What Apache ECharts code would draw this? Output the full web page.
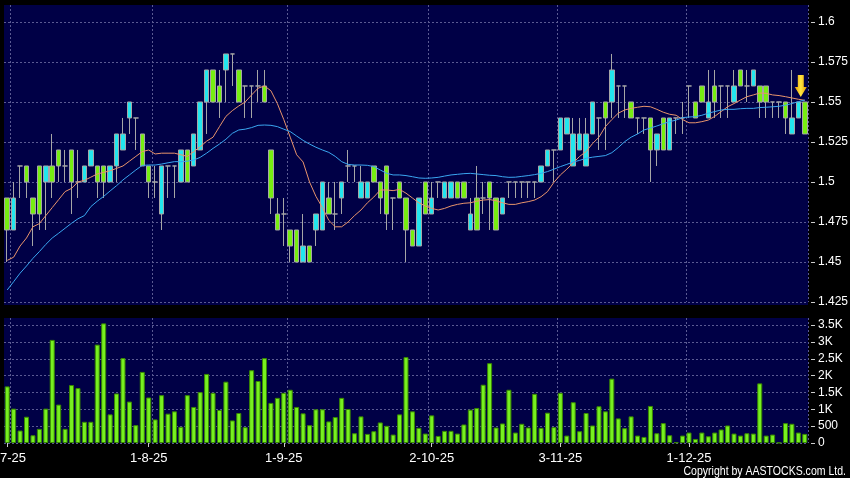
<!DOCTYPE html>
<html><head><meta charset="utf-8">
<script src="https://cdn.jsdelivr.net/npm/echarts@6/dist/echarts.min.js"></script>
<style>html,body{margin:0;padding:0;background:#000;}#c{width:850px;height:478px;}</style>
</head><body><div id="c"></div>
<script>
// ---- data ----
const openP  = [1.49,1.47,1.51,1.51,1.49,1.51,1.50,1.51,1.52,1.51,1.52,1.50,1.50,1.51,1.51,1.51,1.50,1.51,1.52,1.54,1.54,1.53,1.51,1.50,1.48,1.51,1.51,1.50,1.52,1.51,1.52,1.55,1.57,1.56,1.57,1.58,1.57,1.56,1.56,1.56,1.56,1.52,1.48,1.48,1.47,1.47,1.45,1.46,1.47,1.47,1.49,1.48,1.49,1.51,1.51,1.49,1.49,1.51,1.50,1.51,1.49,1.50,1.49,1.47,1.46,1.50,1.48,1.50,1.49,1.49,1.50,1.50,1.47,1.49,1.49,1.50,1.49,1.48,1.50,1.50,1.50,1.50,1.50,1.50,1.51,1.52,1.52,1.53,1.51,1.52,1.51,1.53,1.54,1.55,1.55,1.56,1.56,1.55,1.54,1.54,1.54,1.52,1.54,1.52,1.54,1.54,1.56,1.55,1.56,1.54,1.56,1.56,1.56,1.55,1.57,1.56,1.56,1.56,1.56,1.55,1.55,1.55,1.53,1.54,1.55];
const closeP = [1.47,1.49,1.51,1.50,1.48,1.48,1.51,1.50,1.51,1.51,1.50,1.50,1.51,1.52,1.50,1.50,1.51,1.53,1.53,1.55,1.54,1.51,1.50,1.50,1.51,1.51,1.51,1.52,1.50,1.53,1.55,1.57,1.55,1.55,1.58,1.58,1.55,1.56,1.56,1.56,1.55,1.49,1.47,1.48,1.46,1.45,1.46,1.45,1.48,1.50,1.48,1.48,1.50,1.51,1.51,1.50,1.50,1.50,1.49,1.48,1.49,1.49,1.47,1.46,1.49,1.48,1.49,1.50,1.50,1.50,1.49,1.49,1.48,1.47,1.49,1.49,1.47,1.49,1.50,1.50,1.50,1.50,1.50,1.51,1.52,1.52,1.54,1.54,1.53,1.53,1.53,1.55,1.54,1.54,1.57,1.56,1.56,1.54,1.54,1.54,1.52,1.53,1.52,1.54,1.54,1.54,1.56,1.54,1.55,1.55,1.55,1.56,1.56,1.56,1.56,1.56,1.57,1.55,1.55,1.55,1.55,1.54,1.54,1.55,1.53];
const lowP   = [1.45,1.47,1.49,1.49,1.46,1.47,1.47,1.49,1.50,1.50,1.48,1.49,1.50,1.51,1.49,1.49,1.50,1.50,1.52,1.53,1.52,1.51,1.49,1.49,1.47,1.49,1.49,1.50,1.50,1.51,1.52,1.53,1.55,1.54,1.55,1.56,1.55,1.54,1.54,1.55,1.55,1.48,1.47,1.46,1.45,1.45,1.45,1.45,1.46,1.47,1.48,1.47,1.48,1.50,1.50,1.49,1.49,1.50,1.48,1.47,1.47,1.49,1.45,1.46,1.46,1.48,1.48,1.49,1.49,1.49,1.49,1.49,1.47,1.47,1.48,1.47,1.47,1.48,1.49,1.49,1.49,1.49,1.49,1.50,1.51,1.50,1.52,1.53,1.51,1.52,1.51,1.53,1.52,1.52,1.54,1.54,1.54,1.54,1.53,1.53,1.50,1.51,1.52,1.52,1.53,1.53,1.54,1.54,1.55,1.54,1.54,1.54,1.54,1.55,1.56,1.55,1.56,1.54,1.54,1.54,1.54,1.53,1.53,1.54,1.53];
const highP  = [1.49,1.50,1.51,1.51,1.49,1.51,1.51,1.53,1.52,1.52,1.52,1.52,1.51,1.52,1.51,1.51,1.51,1.53,1.54,1.55,1.54,1.53,1.51,1.51,1.51,1.51,1.51,1.52,1.52,1.53,1.55,1.57,1.57,1.57,1.58,1.58,1.57,1.56,1.56,1.57,1.57,1.52,1.49,1.49,1.47,1.47,1.48,1.46,1.48,1.50,1.50,1.50,1.50,1.52,1.51,1.51,1.50,1.51,1.50,1.51,1.49,1.50,1.49,1.47,1.49,1.50,1.50,1.50,1.50,1.50,1.50,1.50,1.49,1.51,1.50,1.50,1.49,1.49,1.50,1.50,1.50,1.50,1.50,1.51,1.52,1.52,1.54,1.54,1.54,1.54,1.54,1.55,1.54,1.55,1.58,1.56,1.56,1.55,1.54,1.54,1.54,1.53,1.54,1.54,1.54,1.55,1.56,1.55,1.56,1.57,1.57,1.56,1.56,1.57,1.57,1.57,1.57,1.56,1.56,1.55,1.55,1.55,1.57,1.55,1.55];
const volume = [1680,1020,370,780,230,420,1020,3060,1140,420,1720,1630,630,630,2920,3550,850,1470,2520,1230,530,2110,1350,700,1420,870,940,480,1420,1070,1510,2050,1490,980,1820,670,890,470,2160,1840,2520,1190,1340,1490,1580,
  1070,880,530,1000,1000,640,770,1340,1010,290,790,270,350,610,510,250,850,2550,940,450,280,820,210,360,360,280,550,990,1040,1730,2370,460,580,1580,310,570,460,1460,450,900,470,1490,220,
  1210,350,890,520,1090,940,1910,730,440,790,220,180,1100,290,590,230,20,220,310,120,310,200,310,400,520,280,220,290,280,1770,220,250,10,590,570,310,270];
const maShort = [1.451,1.453,1.460,1.465,1.472,1.474,1.479,1.484,1.489,1.494,1.496,1.500,1.501,1.503,1.505,1.506,1.507,1.5085,1.510,1.513,1.516,1.519,1.520,1.5175,1.518,1.518,1.518,1.517,1.516,1.519,1.522,1.5255,1.528,1.5346,1.541,1.5446,1.5475,1.550,1.5544,1.5586,1.560,1.557,1.549,1.539,1.528,1.517,1.5125,1.500,1.491,1.484,1.476,1.472,1.472,1.475,1.479,1.4825,1.487,1.4906,1.495,1.495,1.4946,1.4954,1.493,1.490,1.487,1.485,1.4835,1.4825,1.4835,1.485,1.486,1.4867,1.487,1.488,1.4887,1.489,1.4883,1.487,1.486,1.486,1.487,1.4877,1.4887,1.4908,1.494,1.4998,1.5044,1.508,1.512,1.516,1.519,1.524,1.528,1.5346,1.539,1.543,1.545,1.546,1.5467,1.5473,1.547,1.5454,1.5436,1.5423,1.5417,1.539,1.537,1.537,1.5377,1.5387,1.541,1.544,1.547,1.549,1.5512,1.5533,1.5544,1.5556,1.5554,1.5544,1.554,1.5533,1.5525,1.5517,1.551];
const maLong  = [1.4325,1.4377,1.443,1.4475,1.4523,1.4565,1.461,1.465,1.468,1.4711,1.4742,1.477,1.479,1.4846,1.488,1.491,1.4944,1.4977,1.5013,1.5044,1.5075,1.5104,1.5106,1.5106,1.5112,1.512,1.5127,1.5127,1.513,1.5137,1.5154,1.518,1.521,1.5237,1.5267,1.5304,1.5325,1.533,1.534,1.5354,1.5356,1.5354,1.5346,1.533,1.5315,1.5287,1.526,1.5237,1.5217,1.520,1.5185,1.516,1.5127,1.511,1.5106,1.5106,1.5104,1.5096,1.5075,1.5054,1.5044,1.5044,1.504,1.5033,1.5025,1.5023,1.5025,1.5029,1.5037,1.5044,1.5048,1.5052,1.5054,1.505,1.5046,1.5042,1.504,1.5033,1.5029,1.503,1.5035,1.504,1.5046,1.5054,1.5065,1.508,1.5096,1.511,1.5125,1.5135,1.5148,1.5155,1.516,1.5165,1.5183,1.5215,1.5252,1.528,1.530,1.5325,1.5337,1.535,1.5364,1.5377,1.5387,1.5402,1.5406,1.5408,1.5417,1.543,1.544,1.545,1.5454,1.5454,1.5458,1.546,1.546,1.5465,1.5467,1.547,1.5473,1.548,1.549,1.5502,1.5512];
const dateTickIndex = [0,22,43,66,86,106];
const dateTickText  = ['2-7-25','1-8-25','1-9-25','2-10-25','3-11-25','1-12-25'];
const dateGridIndex = [1,23,44,66,86,106];
const priceTicks = [1.425,1.45,1.475,1.5,1.525,1.55,1.575,1.6];
const volumeTickText = ['0','500','1K','1.5K','2K','2.5K','3K','3.5K'];

// ---- chart ----
const cats = openP.map((_, i) => String(i));
const kData = openP.map((o, i) => [o, closeP[i], lowP[i], highP[i]]);
const NAVY = '#000046';
const GRIDC = '#5a5a92';
const FONT = "'Liberation Sans', Arial, sans-serif";
const last = openP.length - 1;

const chart = echarts.init(document.getElementById('c'), null, {renderer: 'canvas'});
chart.setOption({
  animation: false,
  backgroundColor: '#000',
  textStyle: {fontFamily: FONT},
  grid: [
    {left: 4, right: 42, top: 5, bottom: 176, show: true, backgroundColor: NAVY, borderWidth: 0, outerBoundsMode: 'none', containLabel: false},
    {left: 4, right: 42, top: 318, bottom: 35, show: true, backgroundColor: NAVY, borderWidth: 0, outerBoundsMode: 'none', containLabel: false}
  ],
  graphic: [
    {type: 'rect', left: 4, top: 302, shape: {width: 804, height: 3}, style: {fill: NAVY}, silent: true, z: -1},
    {type: 'text', x: 846, y: 471, scaleX: 0.81, style: {text: 'Copyright by AASTOCKS.com Ltd.', fill: '#fff', align: 'right', verticalAlign: 'middle', font: "13px 'Liberation Sans', Arial, sans-serif"}}
  ],
  xAxis: [
    {type: 'category', gridIndex: 0, data: cats, boundaryGap: true,
     axisLine: {show: false}, axisTick: {show: false}, axisLabel: {show: false},
     splitLine: {show: true, interval: (i) => dateGridIndex.includes(i), lineStyle: {color: GRIDC, type: [2, 2], width: 1}}},
    {type: 'category', gridIndex: 1, data: cats, boundaryGap: true, offset: 2,
     axisLine: {show: false},
     axisTick: {show: true, alignWithLabel: true, length: 4, interval: (i) => dateTickIndex.includes(i), lineStyle: {color: '#ccc'}},
     axisLabel: {show: true, interval: (i) => dateTickIndex.includes(i), color: '#fff', fontSize: 13, margin: 7,
       formatter: (v, i) => dateTickText[dateTickIndex.indexOf(Number(v))] || ''},
     splitLine: {show: true, interval: (i) => dateGridIndex.includes(i), lineStyle: {color: GRIDC, type: [2, 2], width: 1}}}
  ],
  yAxis: [
    {type: 'value', gridIndex: 0, position: 'right', offset: 3, min: priceTicks[0], max: 1.6106, interval: 0.025,
     axisLine: {show: false}, axisTick: {show: true, length: 4, lineStyle: {color: '#ccc'}},
     axisLabel: {color: '#fff', fontSize: 12, margin: 7, showMaxLabel: false,
       formatter: (v) => { const k = priceTicks.findIndex(t => Math.abs(t - v) < 1e-6); return k >= 0 ? String(priceTicks[k]) : ''; }},
     splitLine: {show: true, showMaxLine: false, lineStyle: {color: GRIDC, type: [2, 2], width: 1}}},
    {type: 'value', gridIndex: 1, position: 'right', offset: 3, min: 0, max: 3710, interval: 500,
     axisLine: {show: false}, axisTick: {show: true, length: 4, lineStyle: {color: '#ccc'}},
     axisLabel: {color: '#fff', fontSize: 12, margin: 7, showMaxLabel: false,
       formatter: (v) => { const k = Math.round(v / 500); return (Math.abs(v - k * 500) < 1e-6 && volumeTickText[k]) ? volumeTickText[k] : ''; }},
     splitLine: {show: true, showMaxLine: false, lineStyle: {color: GRIDC, type: [2, 2], width: 1}}}
  ],
  series: [
    {type: 'candlestick', xAxisIndex: 0, yAxisIndex: 0, data: kData, barWidth: 5,
     itemStyle: {color: '#22e6ee', color0: '#77ee11', borderColor: '#a6a6a6', borderColor0: '#a6a6a6', borderColorDoji: '#a6a6a6', borderWidth: 1},
     markPoint: {
       symbol: 'path://M3,0 L9,0 L9,12 L12,12 L6,22 L0,12 L3,12 Z', symbolSize: [12, 22],
       label: {show: false},
       itemStyle: {color: new echarts.graphic.LinearGradient(0, 0, 1, 0, [{offset: 0, color: '#e89a00'}, {offset: 0.5, color: '#ffe640'}, {offset: 1, color: '#e89a00'}])},
       data: [{coord: [String(last), Math.max(openP[last], closeP[last])], symbolOffset: [-4, -16]}]
     }},
    {type: 'line', xAxisIndex: 0, yAxisIndex: 0, data: maShort, symbol: 'none', lineStyle: {color: '#e8946c', width: 1}, z: 3},
    {type: 'line', xAxisIndex: 0, yAxisIndex: 0, data: maLong, symbol: 'none', lineStyle: {color: '#3aa6f0', width: 1}, z: 3},
    {type: 'bar', xAxisIndex: 1, yAxisIndex: 1, data: volume, barWidth: 5,
     itemStyle: {color: '#77f020', borderColor: '#3a8a00', borderWidth: 1}}
  ]
});
</script></body></html>
